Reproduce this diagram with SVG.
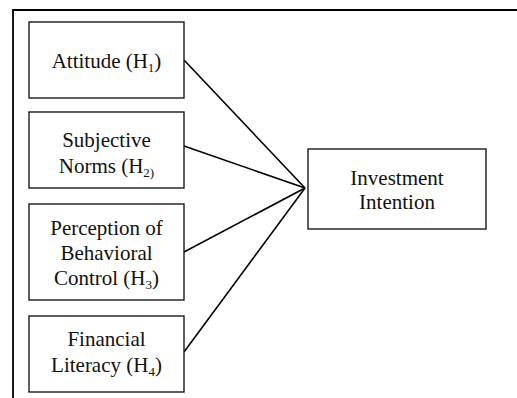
<svg xmlns="http://www.w3.org/2000/svg" width="517" height="398" viewBox="0 0 517 398">
  <style>
    .box { fill: #ffffff; stroke: #1a1a1a; stroke-width: 1.4; }
    .lbl { font-family: 'Liberation Serif', 'Times New Roman', Times, 'DejaVu Serif', serif; font-size: 21px; fill: #111111; text-anchor: middle; }
    .sub { font-size: 13px; }
    .edge { stroke: #000000; stroke-width: 1.6; fill: none; }
    .frame { stroke: #000000; stroke-width: 1.8; fill: none; }
  </style>
  <rect width="517" height="398" fill="#ffffff"/>

  <!-- outer frame: top and left rules only -->
  <path class="frame" d="M13,398 V10 H517"/>

  <g id="connectors">
    <line class="edge" x1="184" y1="60" x2="305" y2="188"/>
    <line class="edge" x1="184" y1="146" x2="305" y2="188"/>
    <line class="edge" x1="184" y1="252" x2="305" y2="188"/>
    <line class="edge" x1="184" y1="352" x2="305" y2="188"/>
  </g>

  <g id="attitude">
    <rect class="box" x="29" y="22" width="155" height="76"/>
    <text class="lbl" font-family="Liberation Serif, serif" x="106.5" y="67.5">Attitude (H<tspan class="sub" dy="4">1</tspan><tspan dy="-4">)</tspan></text>
  </g>

  <g id="subjective-norms">
    <rect class="box" x="29" y="112" width="155" height="76"/>
    <text class="lbl" x="106.5" y="147">Subjective</text>
    <text class="lbl" x="106.5" y="173">Norms (H<tspan class="sub" dy="4">2)</tspan></text>
  </g>

  <g id="perceived-control">
    <rect class="box" x="29" y="204" width="155" height="96"/>
    <text class="lbl" x="106.5" y="235">Perception of</text>
    <text class="lbl" x="106.5" y="260">Behavioral</text>
    <text class="lbl" x="106.5" y="285">Control (H<tspan class="sub" dy="4">3</tspan><tspan dy="-4">)</tspan></text>
  </g>

  <g id="financial-literacy">
    <rect class="box" x="29" y="316" width="155" height="76"/>
    <text class="lbl" x="106.5" y="346">Financial</text>
    <text class="lbl" x="106.5" y="371.5">Literacy (H<tspan class="sub" dy="4">4</tspan><tspan dy="-4">)</tspan></text>
  </g>

  <g id="investment-intention">
    <rect class="box" x="308" y="149" width="178" height="80"/>
    <text class="lbl" x="397" y="184.5">Investment</text>
    <text class="lbl" x="397" y="208.5">Intention</text>
  </g>
</svg>
